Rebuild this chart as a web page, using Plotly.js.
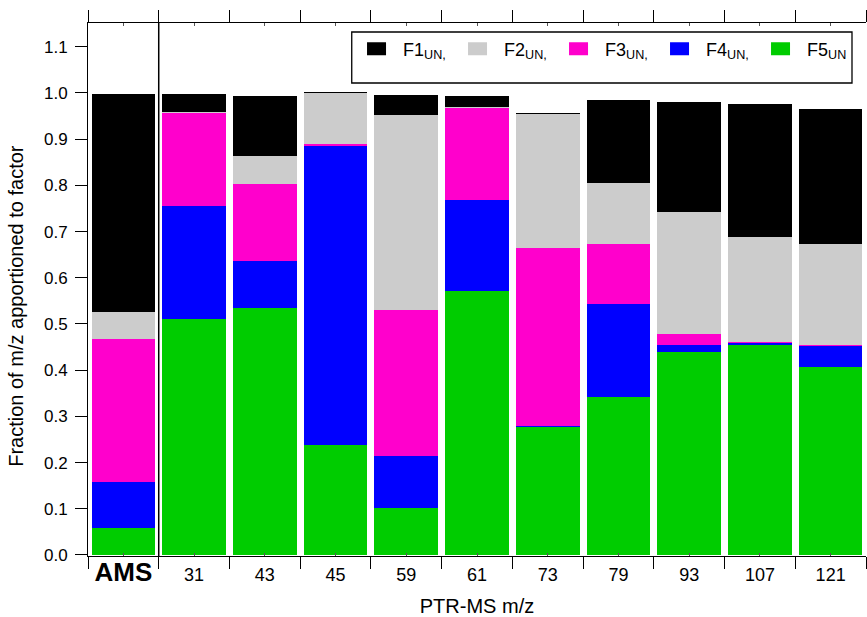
<!DOCTYPE html>
<html>
<head>
<meta charset="utf-8">
<script src="https://cdn.plot.ly/plotly-3.0.1.min.js"></script>
<style>html,body{margin:0;padding:0;background:#fff;}</style>
</head>
<body>
<div id="chart" style="width:867px;height:617px;"></div>
<script>
// Categories (x)
const categories = ['AMS', '31', '43', '45', '59', '61', '73', '79', '93', '107', '121'];
const tickLabels = ['<b><span style="font-size:26px">AMS</span></b>', '31', '43', '45', '59', '61', '73', '79', '93', '107', '121'];
// Fractions apportioned to each factor
const F1 = [0.471, 0.039, 0.130, 0.002, 0.044, 0.023, 0.002, 0.180, 0.239, 0.287, 0.292];
const F2 = [0.058, 0.003, 0.061, 0.111, 0.421, 0.002, 0.290, 0.132, 0.264, 0.229, 0.219];
const F3 = [0.309, 0.201, 0.167, 0.003, 0.316, 0.200, 0.386, 0.130, 0.023, 0.001, 0.002];
const F4 = [0.101, 0.244, 0.101, 0.648, 0.113, 0.197, 0.003, 0.201, 0.016, 0.004, 0.045];
const F5 = [0.058, 0.511, 0.535, 0.238, 0.102, 0.571, 0.276, 0.342, 0.439, 0.455, 0.407];
const seriesNames = ['F1<sub>UN,</sub>', 'F2<sub>UN,</sub>', 'F3<sub>UN,</sub>', 'F4<sub>UN,</sub>', 'F5<sub>UN</sub>'];
const yTicks = [0, 0.1, 0.2, 0.3, 0.4, 0.5, 0.6, 0.7, 0.8, 0.9, 1.0, 1.1];

const colors = ['#000000', '#cccccc', '#ff00cc', '#0000ff', '#00cc00'];
const FONT = 'Liberation Sans, Arial, Helvetica, sans-serif';

const allSeries = [F1, F2, F3, F4, F5];
// stacking order bottom -> top: F5, F4, F3, F2, F1; legend order F1..F5
const traces = [];
for (let k = 4; k >= 0; k--) {
  traces.push({
    type: 'bar',
    x: categories,
    y: allSeries[k],
    name: seriesNames[k],
    marker: {color: colors[k], line: {width: 0}},
    width: 0.9,
    legendrank: k + 1,
    hoverinfo: 'skip'
  });
}
// helper invisible trace for the overlay axis with center ticks
traces.push({
  type: 'scatter', x: categories.map((c, i) => i), y: categories.map(() => null),
  xaxis: 'x2', yaxis: 'y', showlegend: false, hoverinfo: 'skip', mode: 'markers'
});

const layout = {
  width: 867, height: 617,
  margin: {l: 88, r: 1, t: 23, b: 61},
  paper_bgcolor: '#ffffff', plot_bgcolor: '#ffffff',
  font: {family: FONT, color: '#000', size: 16},
  barmode: 'stack',
  bargap: 0.1,
  showlegend: true,
  legend: {
    orientation: 'h', x: 0.3368, y: 0.986, xanchor: 'left', yanchor: 'top',
    bgcolor: 'rgba(0,0,0,0)', borderwidth: 0,
    font: {family: FONT, size: 18, color: '#000'},
    itemwidth: 43, entrywidth: 43, entrywidthmode: 'pixels',
    traceorder: 'normal', itemclick: false, itemdoubleclick: false
  },
  xaxis: {
    type: 'category', range: [-0.5, 10.5],
    tickmode: 'array', tickvals: categories, ticktext: tickLabels,
    tickson: 'boundaries', ticks: 'outside', ticklen: 12, tickwidth: 1, tickcolor: '#000',
    showline: true, linecolor: '#000', linewidth: 1, mirror: 'ticks',
    showgrid: false, zeroline: false,
    tickfont: {family: FONT, size: 18, color: '#000'},
    ticklabelstandoff: 2,
    title: {text: 'PTR-MS m/z', font: {family: FONT, size: 20, color: '#000'}, standoff: 18},
    automargin: false, fixedrange: true
  },
  xaxis2: {
    overlaying: 'x', anchor: 'y', side: 'bottom', range: [-0.5, 10.5],
    tickmode: 'array', tickvals: categories.map((c, i) => i),
    ticks: 'inside', ticklen: 3, tickwidth: 1, tickcolor: '#555',
    showticklabels: false, showline: false, mirror: 'ticks', showgrid: false, zeroline: false,
    fixedrange: true
  },
  yaxis: {
    range: [-0.0022, 1.1515],
    tickmode: 'array', tickvals: yTicks, tickformat: '.1f',
    ticks: 'outside', ticklen: 12, tickwidth: 1, tickcolor: '#000',
    showline: true, linecolor: '#000', linewidth: 1,
    showgrid: false, zeroline: false,
    tickfont: {family: FONT, size: 17, color: '#000'},
    ticklabelstandoff: 4,
    title: {text: 'Fraction of m/z apportioned to factor&nbsp;&nbsp;&nbsp;&nbsp;&nbsp;&nbsp;', font: {family: FONT, size: 20, color: '#000'}, standoff: 14},
    automargin: false, fixedrange: true
  },
  shapes: [
    {type: 'line', xref: 'x', yref: 'paper', x0: 0.5, x1: 0.5, y0: 0, y1: 1,
     line: {color: '#000', width: 1.5}},
    {type: 'rect', xref: 'paper', yref: 'paper', x0: 0.339, x1: 0.982, y0: 0.8874, y1: 0.9831,
     line: {color: '#000', width: 1.3}, fillcolor: 'rgba(0,0,0,0)'}
  ]
};

Plotly.newPlot('chart', traces, layout, {displayModeBar: false, staticPlot: true}).then(function () {
  document.querySelectorAll('.legendpoints path').forEach(function (p) {
    p.setAttribute('d', 'M9.5,6.5H-9.5V-6.5H9.5Z');
  });
});
</script>
</body>
</html>
